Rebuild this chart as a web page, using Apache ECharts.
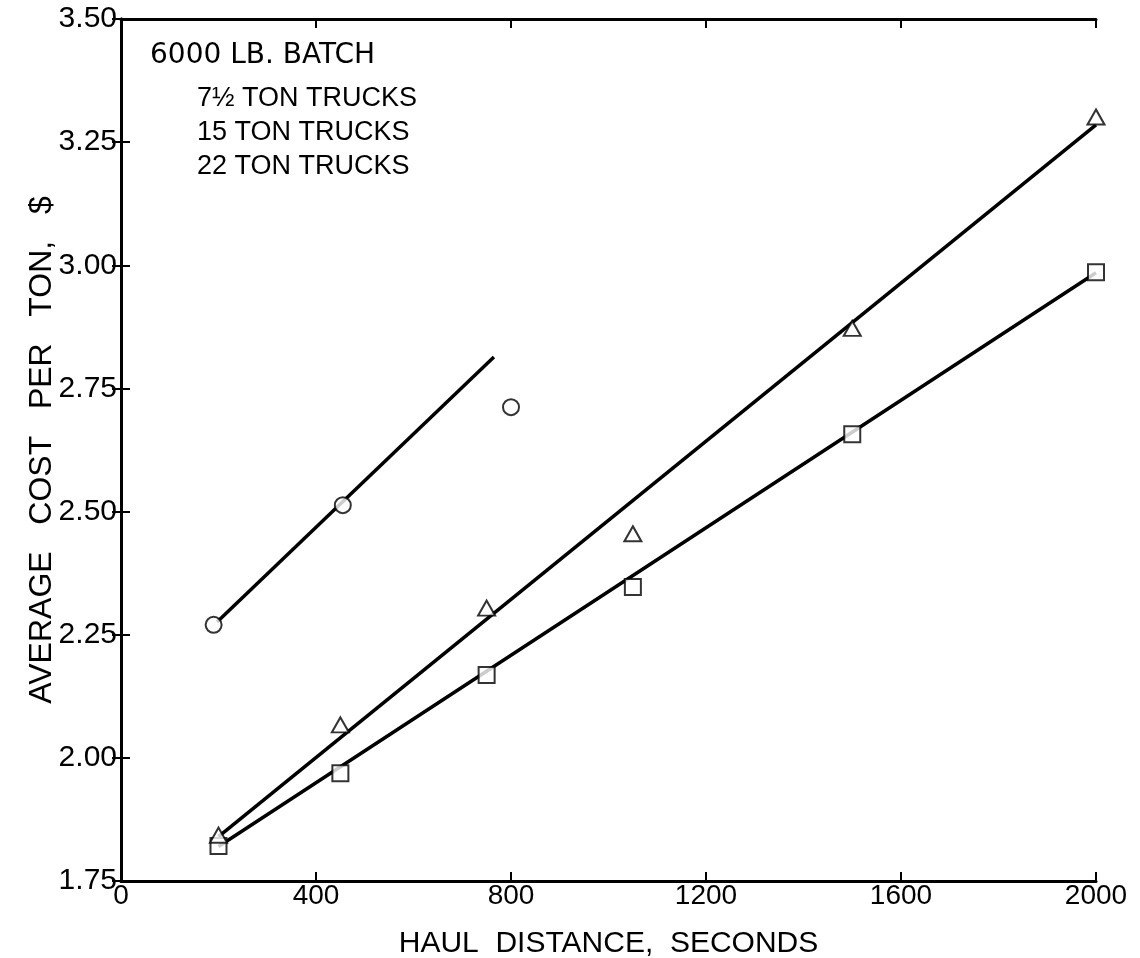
<!DOCTYPE html>
<html><head><meta charset="utf-8">
<script src="https://cdn.jsdelivr.net/npm/echarts@6/dist/echarts.min.js"></script>
<style>html,body{margin:0;padding:0;background:#fff}#c{width:1140px;height:958px}</style>
</head><body><div id="c"></div>
<script>
// Observed data points (haul distance in seconds, average cost per ton in $)
const x75 = [190, 455, 800];
const y75 = [2.27, 2.513, 2.712];
const x15 = [200, 450, 750, 1050, 1500, 2000];
const y15 = [1.821, 1.969, 2.168, 2.347, 2.657, 2.986];
const x22 = [200, 450, 750, 1050, 1500, 2000];
const y22 = [1.843, 2.067, 2.304, 2.455, 2.872, 3.301];
// Fitted straight lines (endpoints as drawn)
const fit75X = [197, 765];
const fit75Y = [2.276, 2.814];
const fit15X = [200, 2000];
const fit15Y = [1.82, 2.985];
const fit22X = [200, 2000];
const fit22Y = [1.84, 3.285];
// Axis ticks
const xTicks = [0, 400, 800, 1200, 1600, 2000];
const yTicks = [1.75, 2.00, 2.25, 2.50, 2.75, 3.00, 3.25, 3.50];
const legendTitle = '6000 LB. BATCH';
const legendLines = ['7\u00BD TON TRUCKS', '15 TON TRUCKS', '22 TON TRUCKS'];

const pairs = (xs, ys) => xs.map((v, i) => [v, ys[i]]);
const chart = echarts.init(document.getElementById('c'));
const axisCommon = {
  axisLine:{lineStyle:{color:'#000', width:3}},
  axisTick:{inside:true, length:9, lineStyle:{color:'#000', width:2}},
  splitLine:{show:false}
};
const markerStyle = {color:'#fff', borderColor:'#000', borderWidth:2};
chart.setOption({
  animation:false,
  backgroundColor:'#fff',
  grid:{left:121, right:44, top:19, bottom:77, containLabel:false, outerBoundsMode:'none'},
  xAxis:[
    Object.assign({type:'value', min:0, max:2000, interval:400, position:'bottom',
      axisLabel:{margin:1, color:'#000', fontFamily:'Liberation Sans', fontSize:28,
        formatter:v=>xTicks.includes(v)?String(v):''},
      name:'HAUL  DISTANCE,  SECONDS', nameLocation:'middle', nameGap:48, nameMoveOverlap:false,
      nameTextStyle:{color:'#000', fontFamily:'Liberation Sans', fontSize:30}}, axisCommon),
    Object.assign({type:'value', min:0, max:2000, interval:400, position:'top',
      axisLabel:{show:false}}, axisCommon)
  ],
  yAxis:[
    Object.assign({type:'value', min:1.75, max:3.5, interval:0.25, position:'left',
      axisLabel:{margin:4, color:'#000', fontFamily:'Liberation Sans', fontSize:30,
        formatter:v=>{const t=yTicks.find(k=>Math.abs(k-v)<1e-6);return t===undefined?'':t.toFixed(2);}},
      name:'AVERAGE   COST   PER   TON,   $', nameLocation:'middle', nameGap:63, nameMoveOverlap:false,
      nameTextStyle:{color:'#000', fontFamily:'Liberation Sans', fontSize:32}}, axisCommon),
    Object.assign({type:'value', min:1.75, max:3.5, interval:0.25, position:'right',
      axisLabel:{show:false}}, axisCommon)
  ],
  graphic:[
    {type:'text', left:150, top:42, style:{text:legendTitle, fill:'#000', font:'28px "DejaVu Sans"'}},
    {type:'text', left:197, top:85, style:{text:legendLines[0], fill:'#000', font:'27px "Liberation Sans"'}},
    {type:'text', left:197, top:119, style:{text:legendLines[1], fill:'#000', font:'27px "Liberation Sans"'}},
    {type:'text', left:197, top:153, style:{text:legendLines[2], fill:'#000', font:'27px "Liberation Sans"'}}
  ],
  series:[
    {type:'line', data:pairs(fit75X, fit75Y), symbol:'none', lineStyle:{color:'#000', width:3.5}, z:2},
    {type:'line', data:pairs(fit15X, fit15Y), symbol:'none', lineStyle:{color:'#000', width:3.5}, z:2},
    {type:'line', data:pairs(fit22X, fit22Y), symbol:'none', lineStyle:{color:'#000', width:3.5}, z:2},
    {type:'scatter', name:'7\u00BD TON TRUCKS', data:pairs(x75, y75), symbol:'circle', symbolSize:16, itemStyle:markerStyle, z:3},
    {type:'scatter', name:'15 TON TRUCKS', data:pairs(x15, y15), symbol:'rect', symbolSize:16, itemStyle:markerStyle, z:3},
    {type:'scatter', name:'22 TON TRUCKS', data:pairs(x22, y22), symbol:'triangle', symbolSize:[17,15], itemStyle:markerStyle, z:3}
  ]
});
</script></body></html>
